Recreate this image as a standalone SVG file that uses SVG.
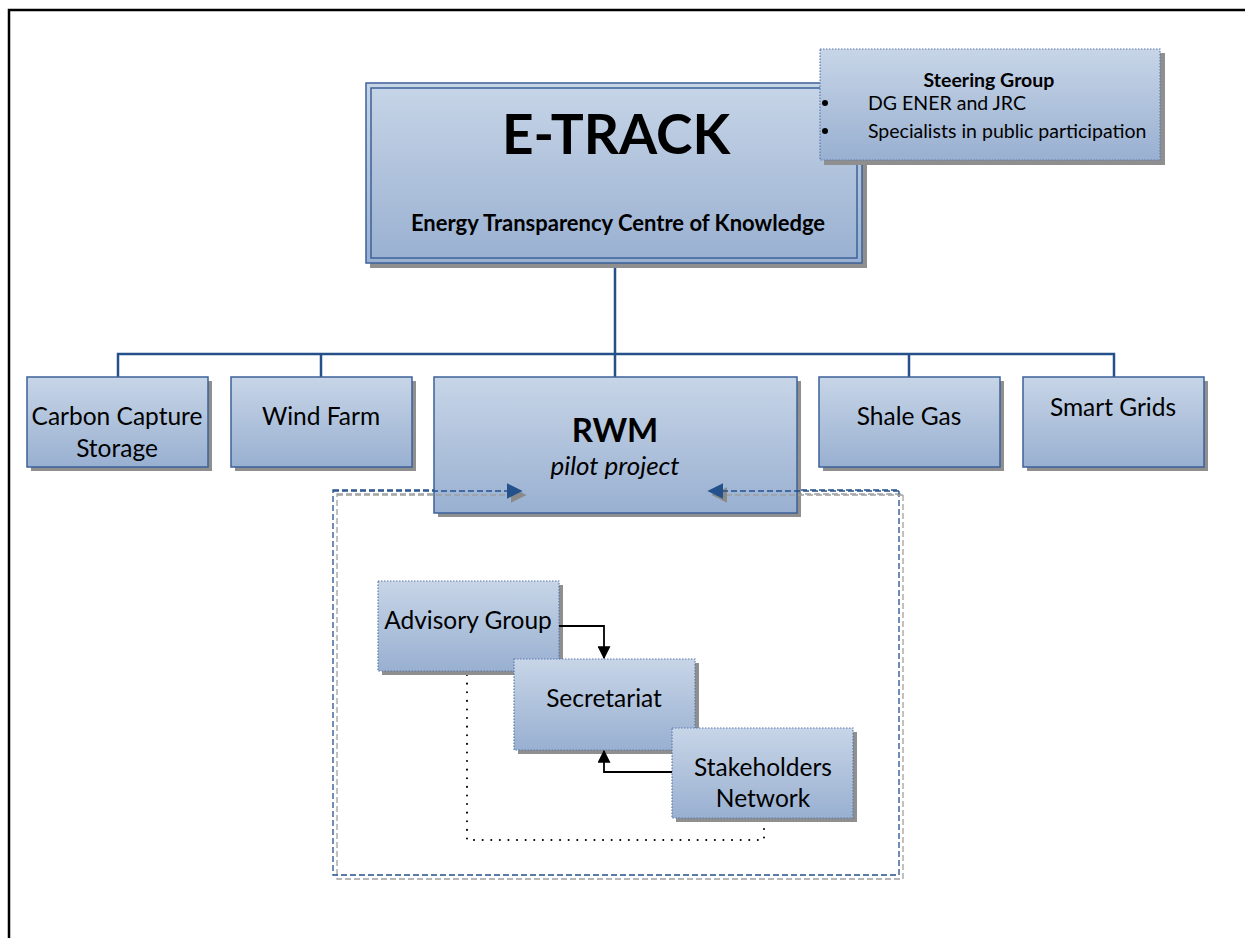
<svg xmlns="http://www.w3.org/2000/svg" width="1245" height="938" viewBox="0 0 1245 938">
  <defs>
    <linearGradient id="fill" x1="0" y1="0" x2="0" y2="1">
      <stop offset="0" stop-color="#c7d5e7"/>
      <stop offset="1" stop-color="#99b0d1"/>
    </linearGradient>
    <marker id="blueHead" viewBox="0 0 10 10" refX="9" refY="5" markerWidth="16" markerHeight="16" markerUnits="userSpaceOnUse" orient="auto">
      <path d="M0,0 L10,5 L0,10 Z" fill="#24518c"/>
    </marker>
    <marker id="grayHead" viewBox="0 0 10 10" refX="9" refY="5" markerWidth="16" markerHeight="16" markerUnits="userSpaceOnUse" orient="auto">
      <path d="M0,0 L10,5 L0,10 Z" fill="#8a8a8a"/>
    </marker>
    <marker id="blackHead" viewBox="0 0 10 10" refX="9" refY="5" markerWidth="13" markerHeight="13" markerUnits="userSpaceOnUse" orient="auto">
      <path d="M0,0 L10,5 L0,10 Z" fill="#000"/>
    </marker>
  </defs>
  <style>
    text { font-family: Lato, "Open Sans", "Liberation Sans", sans-serif; fill: #000; }
    .shadow { fill: #8f8f8f; }
    .box { fill: url(#fill); stroke: #3d6299; stroke-width: 1.5; }
    .dotbox { fill: url(#fill); stroke: #5b7bb0; stroke-width: 1.2; stroke-dasharray: 1.5 1.5; }
    .lbl { font-size: 24.5px; text-anchor: middle; }
    .tree { fill: none; stroke: #26508a; stroke-width: 2.5; }
    .dashBlue { fill: none; stroke: #24508c; stroke-width: 1.3; stroke-dasharray: 6 3; }
    .dashGray { fill: none; stroke: #a0a0a0; stroke-width: 1.3; stroke-dasharray: 6 3; }
    .link { fill: none; stroke: #000; stroke-width: 1.8; }
    .dots { fill: none; stroke: #000; stroke-width: 2; stroke-dasharray: 0.1 8.5; stroke-linecap: round; }
  </style>

  <!-- page frame -->
  <path d="M9,938 V10 H1245" fill="none" stroke="#000" stroke-width="2.5"/>

  <!-- working group enclosure -->
  <g id="rwm-group-frame">
    <rect x="337" y="494" width="566" height="385" class="dashGray"/>
    <rect x="333" y="490" width="566" height="385" class="dashBlue"/>
  </g>

  <!-- tree connectors -->
  <g id="connectors">
    <path class="tree" d="M615,263 V354 M118,377 V354 H1114 V377 M321,354 V377 M615,354 V377 M909,354 V377"/>
  </g>

  <!-- root node -->
  <g id="etrack">
    <rect x="370" y="87" width="497" height="181" class="shadow"/>
    <rect x="366" y="83" width="496" height="180" fill="url(#fill)" stroke="#3d6299" stroke-width="1.5"/>
    <rect x="371" y="88" width="486" height="170" fill="none" stroke="#3d6299" stroke-width="1.5"/>
    <text x="616" y="154" font-size="55" font-weight="bold" text-anchor="middle">E-TRACK</text>
    <text x="618" y="231" font-size="22" font-weight="bold" text-anchor="middle">Energy Transparency Centre of Knowledge</text>
  </g>

  <!-- steering group -->
  <g id="steering-group">
    <rect x="824" y="53" width="341" height="112" class="shadow"/>
    <rect x="820" y="49" width="340" height="111" class="dotbox"/>
    <text x="989" y="87" font-size="19.5" font-weight="bold" text-anchor="middle">Steering Group</text>
    <circle cx="825" cy="103" r="3" fill="#000"/>
    <circle cx="825" cy="131" r="3" fill="#000"/>
    <text x="868" y="110" font-size="19.5">DG ENER and JRC</text>
    <text x="868" y="138" font-size="19.5">Specialists in public participation</text>
  </g>

  <!-- second level -->
  <g id="ccs">
    <rect x="31" y="381" width="181" height="90" class="shadow"/>
    <rect x="27" y="377" width="181" height="90" class="box"/>
    <text x="117" y="425" class="lbl">Carbon Capture</text>
    <text x="117" y="457" class="lbl">Storage</text>
  </g>
  <g id="wind-farm">
    <rect x="235" y="381" width="181" height="90" class="shadow"/>
    <rect x="231" y="377" width="181" height="90" class="box"/>
    <text x="321" y="425" class="lbl">Wind Farm</text>
  </g>
  <g id="rwm">
    <rect x="438" y="381" width="363" height="136" class="shadow"/>
    <rect x="434" y="377" width="363" height="136" class="box"/>
    <text x="615" y="442" font-size="33" font-weight="bold" text-anchor="middle">RWM</text>
    <text x="615" y="475" font-size="26" font-style="italic" text-anchor="middle">pilot project</text>
  </g>
  <g id="shale-gas">
    <rect x="823" y="381" width="181" height="90" class="shadow"/>
    <rect x="819" y="377" width="181" height="90" class="box"/>
    <text x="909" y="425" class="lbl">Shale Gas</text>
  </g>
  <g id="smart-grids">
    <rect x="1027" y="381" width="181" height="90" class="shadow"/>
    <rect x="1023" y="377" width="181" height="90" class="box"/>
    <text x="1113" y="416" class="lbl">Smart Grids</text>
  </g>

  <!-- group links into RWM -->
  <g id="rwm-links">
    <path class="dashGray" d="M337,495 H525" marker-end="url(#grayHead)"/>
    <path class="dashGray" d="M903,495 H713" marker-end="url(#grayHead)"/>
    <path class="dashBlue" d="M333,491 H521" marker-end="url(#blueHead)"/>
    <path class="dashBlue" d="M899,491 H709" marker-end="url(#blueHead)"/>
  </g>

  <!-- feedback loop Advisory Group to Stakeholders Network -->
  <g id="inner-connectors">
    <path class="dots" d="M467,675 V840 H764 V822"/>
  </g>

  <g id="advisory-group">
    <rect x="382" y="585" width="181" height="90" class="shadow"/>
    <rect x="378" y="581" width="181" height="90" class="dotbox"/>
    <text x="468" y="629" class="lbl">Advisory Group</text>
  </g>
  <g id="secretariat">
    <rect x="518" y="663" width="181" height="91" class="shadow"/>
    <rect x="514" y="659" width="181" height="91" class="dotbox"/>
    <text x="604" y="707" class="lbl">Secretariat</text>
  </g>
  <g id="stakeholders-network">
    <rect x="676" y="732" width="181" height="90" class="shadow"/>
    <rect x="672" y="728" width="181" height="90" class="dotbox"/>
    <text x="763" y="776" class="lbl">Stakeholders</text>
    <text x="763" y="807" class="lbl">Network</text>
  </g>

  <g id="inner-arrows">
    <path class="link" d="M559,626 H604 V658" marker-end="url(#blackHead)"/>
    <path class="link" d="M672,772 H604 V751" marker-end="url(#blackHead)"/>
  </g>
</svg>
